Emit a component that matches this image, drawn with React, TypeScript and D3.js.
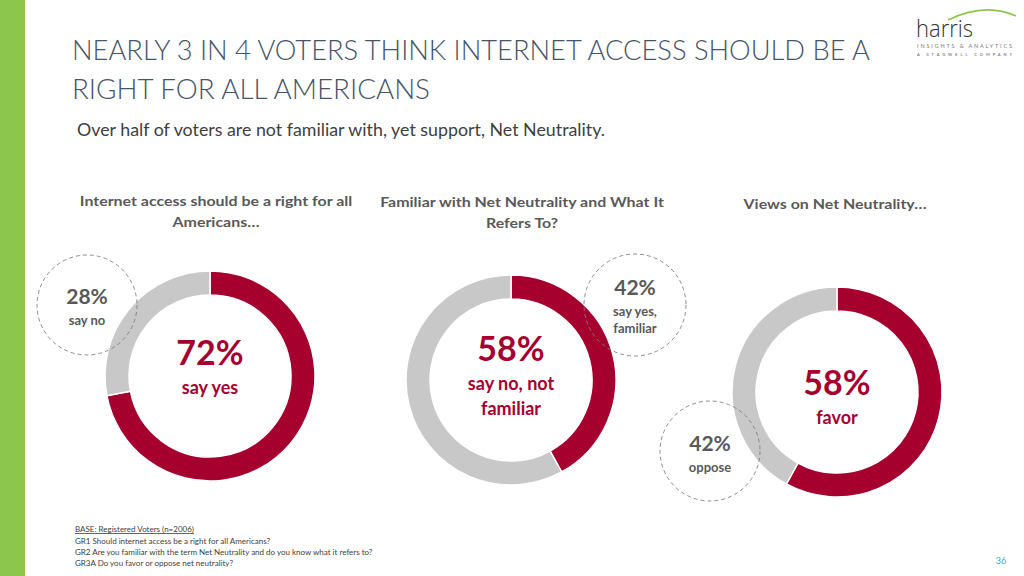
import React from "react";
import * as d3 from "d3";

const headers = [
  ["Internet access should be a right for all", "Americans…"],
  ["Familiar with Net Neutrality and What It", "Refers To?"],
  ["Views on Net Neutrality…"],
];
const primaryValues = [72, 42, 58];
const secondaryValues = [28, 58, 42];
const centerPct = ["72%", "58%", "58%"];
const centerLabels = [["say yes"], ["say no, not", "familiar"], ["favor"]];
const bubblePct = ["28%", "42%", "42%"];
const bubbleLabels = [["say no"], ["say yes,", "familiar"], ["oppose"]];
const footnotes = [
  "GR1 Should internet access be a right for all Americans?",
  "GR2 Are you familiar with the term Net Neutrality and do you know what it refers to?",
  "GR3A Do you favor or oppose net neutrality?",
];

const RED = "#A6002F";
const GRAY = "#C8C8C8";
const TXT = "#595959";
const FONT = "Lato, 'Open Sans', sans-serif";

const donutCenters = [
  { x: 210, y: 376 },
  { x: 511, y: 380 },
  { x: 837, y: 392 },
];
const headerX = [216, 522, 835];
const headerY = [206, 207, 209];
const headerScale = 1.14;
const pctOffset = [-11, -19, 3];
const labelOffset = [18, 10, 32];
const bubblePctOffset = [-1, -10, 0];
const bubbleLabelOffset = [20, 11, 21];
const bubbles = [
  { x: 87, y: 305, r: 50 },
  { x: 635, y: 305, r: 51 },
  { x: 710, y: 451, r: 50 },
];

export default function App() {
  const pie = d3.pie<number>().sort(null).value((d) => d);
  const arc = d3.arc<d3.PieArcDatum<number>>().innerRadius(81).outerRadius(105);

  return (
    <svg width={1024} height={576} style={{ position: "absolute", left: 0, top: 0, background: "#fff" }} fontFamily={FONT}>
      <rect x={0} y={0} width={1024} height={576} fill="#fff" />
      <rect x={0} y={0} width={25} height={576} fill="#8DC64C" />
      {/* Title */}
      <text x={72} y={60} fontSize={28} fontWeight={300} fill="#44546A" textLength={798} lengthAdjust="spacingAndGlyphs">
        NEARLY 3 IN 4 VOTERS THINK INTERNET ACCESS SHOULD BE A
      </text>
      <text x={72} y={99} fontSize={28} fontWeight={300} fill="#44546A" textLength={358} lengthAdjust="spacingAndGlyphs">
        RIGHT FOR ALL AMERICANS
      </text>
      <text x={77} y={136} fontSize={16.5} fill="#404040" textLength={528} lengthAdjust="spacingAndGlyphs">
        Over half of voters are not familiar with, yet support, Net Neutrality.
      </text>

      {/* Logo */}
      <path d="M948,20 Q985,2 1016,16" fill="none" stroke="#8DC64C" strokeWidth={1.5} />
      <text x={916} y={37} fontSize={23} fontWeight={300} fill="#333" fontFamily="'Open Sans', sans-serif" textLength={57} lengthAdjust="spacingAndGlyphs">harris</text>
      <text x={917} y={48} fontSize={5.5} fill="#777" textLength={95} lengthAdjust="spacing">INSIGHTS &amp; ANALYTICS</text>
      <text x={917} y={56} fontSize={4} fill="#555" textLength={95} lengthAdjust="spacing">A STAGWELL COMPANY</text>

      {/* Headers */}
      {headers.map((lines, i) =>
        lines.map((l, j) => (
          <text
            key={`h${i}${j}`}
            transform={`translate(${headerX[i]},${headerY[i] + j * 21}) scale(${headerScale},1)`}
            fontSize={14}
            fontWeight={700}
            fill={TXT}
            textAnchor="middle"
          >
            {l}
          </text>
        ))
      )}

      {/* Donuts */}
      {primaryValues.map((v, i) => {
        const arcs = pie([v, secondaryValues[i]]);
        const c = donutCenters[i];
        return (
          <g key={`d${i}`} transform={`translate(${c.x},${c.y})`}>
            {arcs.map((a, k) => (
              <path key={k} d={arc(a) || ""} fill={k === 0 ? RED : GRAY} stroke="#fff" strokeWidth={1.5} />
            ))}
            <text x={0} y={pctOffset[i]} fontSize={34} fontWeight={700} fill={RED} textAnchor="middle">
              {centerPct[i]}
            </text>
            {centerLabels[i].map((l, j) => (
              <text key={j} x={0} y={labelOffset[i] + j * 25} fontSize={18} fontWeight={700} fill={RED} textAnchor="middle">
                {l}
              </text>
            ))}
          </g>
        );
      })}

      {/* Bubbles */}
      {bubbles.map((b, i) => (
        <g key={`b${i}`} transform={`translate(${b.x},${b.y})`}>
          <circle r={b.r} fill="none" stroke="#7F7F7F" strokeWidth={0.9} strokeDasharray="4 3" />
          <text x={0} y={bubblePctOffset[i]} fontSize={21} fontWeight={700} fill={TXT} textAnchor="middle">
            {bubblePct[i]}
          </text>
          {bubbleLabels[i].map((l, j) => (
            <text key={j} x={0} y={bubbleLabelOffset[i] + j * 17} fontSize={13} fontWeight={700} fill={TXT} textAnchor="middle">
              {l}
            </text>
          ))}
        </g>
      ))}

      {/* Footnotes */}
      <text x={75} y={532} fontSize={8} fill="#404040" textDecoration="underline">BASE: Registered Voters (n=2006)</text>
      {footnotes.map((f, i) => (
        <text key={`f${i}`} x={75} y={544 + i * 11} fontSize={8} fill="#404040">
          {f}
        </text>
      ))}
      <text x={1001} y={564} fontSize={9} fill="#4BA3D8" textAnchor="middle">36</text>
    </svg>
  );
}
